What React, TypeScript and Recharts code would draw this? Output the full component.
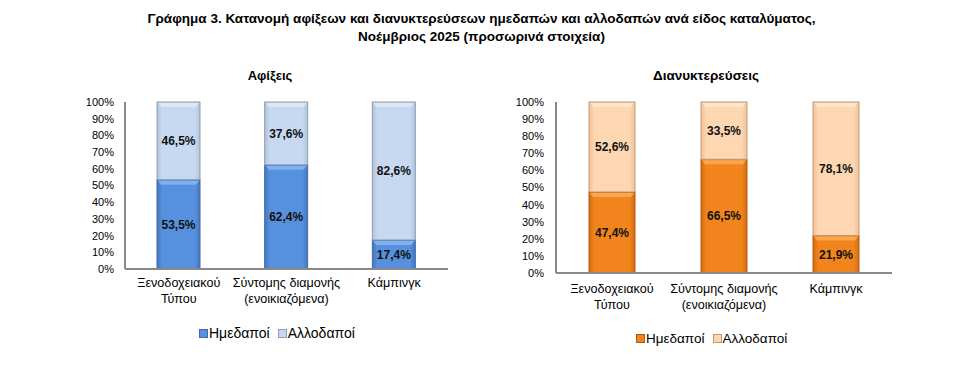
import React from 'react';
import { BarChart, Bar, XAxis, YAxis, LabelList } from 'recharts';

const categories = ['Ξενοδοχειακού\nΤύπου', 'Σύντομης διαμονής\n(ενοικιαζόμενα)', 'Κάμπινγκ'];
const arrivalsDomestic = [53.5, 62.4, 17.4];
const arrivalsForeign = [46.5, 37.6, 82.6];
const nightsDomestic = [47.4, 66.5, 21.9];
const nightsForeign = [52.6, 33.5, 78.1];
const yTicks = [0, 10, 20, 30, 40, 50, 60, 70, 80, 90, 100];
const seriesNames = ['Ημεδαποί', 'Αλλοδαποί'];

const FONT = '"Liberation Sans", Arial, sans-serif';

const palette = {
  blue: { base: '#5790dc', edge: '#4677bd', top: '#7fb0ef', border: '#3f6aa8' },
  lightBlue: { base: '#c6d9f1', edge: '#b0c3dc', top: '#dbe7f6', border: '#8f9db0' },
  orange: { base: '#f1841c', edge: '#d66e12', top: '#fba54d', border: '#a95a16' },
  peach: { base: '#fdd6b2', edge: '#efc199', top: '#fee5cc', border: '#c69870' },
};

type Tone = { base: string; edge: string; top: string; border: string };

const buildRows = (dom: number[], frn: number[]) =>
  categories.map((name, i) => ({ name, dom: dom[i], frn: frn[i] }));

const arrivalsRows = buildRows(arrivalsDomestic, arrivalsForeign);
const nightsRows = buildRows(nightsDomestic, nightsForeign);

const pct = (v: number) => `${v.toFixed(1).replace('.', ',')}%`;

const Gradient = ({ id, tone }: { id: string; tone: Tone }) => (
  <linearGradient id={id} x1="0" y1="0" x2="1" y2="0">
    <stop offset="0" stopColor={tone.edge} />
    <stop offset="0.12" stopColor={tone.base} />
    <stop offset="0.88" stopColor={tone.base} />
    <stop offset="1" stopColor={tone.edge} />
  </linearGradient>
);

const bevelShape = (gradId: string, tone: Tone) => (props: any) => {
  const { x, y, width, height } = props;
  if (!height || height <= 0) return null;
  return (
    <g>
      <rect x={x} y={y} width={width} height={height} fill={`url(#${gradId})`} stroke={tone.border} strokeWidth={1} />
      <polygon
        points={`${x + 1},${y + 1} ${x + width - 1},${y + 1} ${x + width - 4},${y + 5} ${x + 4},${y + 5}`}
        fill={tone.top}
      />
    </g>
  );
};

const CategoryTick = (props: any) => {
  const { x, y, payload } = props;
  const lines = String(payload.value).split('\n');
  return (
    <text x={x} y={y} textAnchor="middle" fontSize={12.6} fill="#000" fontFamily={FONT}>
      {lines.map((l, i) => (
        <tspan key={i} x={x} dy={i === 0 ? 0 : 15.5}>{l}</tspan>
      ))}
    </text>
  );
};

const Legend2 = ({ left, top, tones, size }: { left: number; top: number; tones: Tone[]; size: number }) => (
  <div style={{ position: 'absolute', left, top, display: 'flex', alignItems: 'center', fontFamily: FONT, fontSize: size, color: '#000' }}>
    {seriesNames.map((n, i) => (
      <div key={n} style={{ display: 'flex', alignItems: 'center', marginRight: i === 0 ? 8 : 0 }}>
        <span style={{ display: 'inline-block', width: 7, height: 7, background: tones[i].base, border: `1px solid ${tones[i].border}`, marginRight: 1 }} />
        <span>{n}</span>
      </div>
    ))}
  </div>
);

const StackChart = ({ rows, width, yWidth, marginRight, marginBottom, barSize, tones, prefix, tickGap, tickDy }: any) => (
  <BarChart width={width} height={373} data={rows} margin={{ top: 102, right: marginRight, bottom: marginBottom, left: 0 }} barSize={barSize}>
    <defs>
      <Gradient id={`${prefix}-dom`} tone={tones[0]} />
      <Gradient id={`${prefix}-frn`} tone={tones[1]} />
    </defs>
    <XAxis
      dataKey="name"
      height={30}
      interval={0}
      tickLine={false}
      axisLine={{ stroke: '#8a8a8a', strokeWidth: 2 }}
      tick={<CategoryTick />}
      tickMargin={tickDy}
    />
    <YAxis
      width={yWidth}
      domain={[0, 100]}
      ticks={yTicks}
      interval={0}
      tickLine={false}
      tickMargin={tickGap}
      tickFormatter={(v: number) => `${v}%`}
      tick={{ fontSize: 11, fill: '#000', fontFamily: FONT }}
      axisLine={{ stroke: '#8a8a8a', strokeWidth: 2 }}
    />
    <Bar dataKey="dom" stackId="s" isAnimationActive={false} shape={bevelShape(`${prefix}-dom`, tones[0])}>
      <LabelList dataKey="dom" position="center" formatter={pct} style={{ fontSize: 12, fontWeight: 700, fill: '#111', fontFamily: FONT }} />
    </Bar>
    <Bar dataKey="frn" stackId="s" isAnimationActive={false} shape={bevelShape(`${prefix}-frn`, tones[1])}>
      <LabelList dataKey="frn" position="center" formatter={pct} style={{ fontSize: 12, fontWeight: 700, fill: '#111', fontFamily: FONT }} />
    </Bar>
  </BarChart>
);

export default function App() {
  return (
    <div style={{ position: 'absolute', left: 0, top: 0, width: 963, height: 373, background: '#fff', overflow: 'hidden' }}>
      <div style={{ position: 'absolute', left: 0, top: 10, width: 963, textAlign: 'center', fontFamily: FONT, fontWeight: 700, fontSize: 13.5, lineHeight: '18px', color: '#000' }}>
        Γράφημα 3. Κατανομή αφίξεων και διανυκτερεύσεων ημεδαπών και αλλοδαπών ανά είδος καταλύματος,
        <br />
        Νοέμβριος 2025 (προσωρινά στοιχεία)
      </div>
      <div style={{ position: 'absolute', left: 170, top: 68, width: 200, textAlign: 'center', fontFamily: FONT, fontWeight: 700, fontSize: 13 }}>Αφίξεις</div>
      <div style={{ position: 'absolute', left: 606, top: 68, width: 200, textAlign: 'center', fontFamily: FONT, fontWeight: 700, fontSize: 13.5 }}>Διανυκτερεύσεις</div>

      <div style={{ position: 'absolute', left: 0, top: 0 }}>
        <StackChart rows={arrivalsRows} width={460} yWidth={125} marginRight={12} marginBottom={74} barSize={43}
          tones={[palette.blue, palette.lightBlue]} prefix="arr" tickGap={5} tickDy={12} />
      </div>
      <div style={{ position: 'absolute', left: 480, top: 0 }}>
        <StackChart rows={nightsRows} width={483} yWidth={76} marginRight={71} marginBottom={70} barSize={46}
          tones={[palette.orange, palette.peach]} prefix="ngt" tickGap={6} tickDy={14} />
      </div>

      <Legend2 left={199} top={325} size={14} tones={[palette.blue, palette.lightBlue]} />
      <Legend2 left={636} top={331} size={13.5} tones={[palette.orange, palette.peach]} />
    </div>
  );
}
